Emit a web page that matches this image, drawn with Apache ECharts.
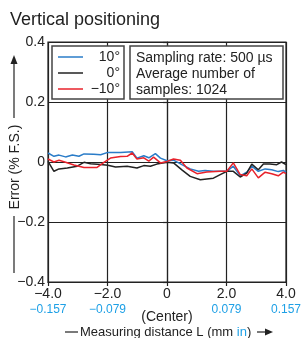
<!DOCTYPE html>
<html><head><meta charset="utf-8">
<script src="https://cdn.jsdelivr.net/npm/echarts@6/dist/echarts.min.js"></script>
<style>html,body{margin:0;padding:0;background:#fff}#c{width:304px;height:338px}</style>
</head><body><div id="c"></div>
<script>
// Tick labels
const xTickMm = ['\u22124.0', '\u22122.0', '0', '2.0', '4.0'];
const xTickIn = ['\u22120.157', '\u22120.079', '', '0.079', '0.157'];
const xTickVals = [-4, -2, 0, 2, 4];
const yTickVals = [0.4, 0.2, 0, -0.2, -0.4];
const yTickLabels = ['0.4', '0.2', '0', '\u22120.2', '\u22120.4'];
const seriesNames = ['10\u00b0', '0\u00b0', '\u221210\u00b0'];

// 10 degrees (blue)
const blueX = [-4.0,-3.8,-3.63,-3.41,-3.18,-2.96,-2.79,-2.46,-2.23,-1.99,-1.56,-1.17,-1.01,-0.78,-0.61,-0.39,-0.22,0,0.22,0.50,0.78,1.06,1.28,1.56,2.01,2.23,2.46,2.68,2.85,3.07,3.30,3.52,3.74,3.91,4.0];
const blueY = [0.030,0.019,0.023,0.017,0.023,0.019,0.027,0.026,0.024,0.032,0.032,0.034,0.013,0.021,0.014,0.028,0.013,0.004,0.006,-0.009,-0.023,-0.031,-0.028,-0.031,-0.031,-0.014,-0.046,-0.034,-0.014,-0.031,-0.023,-0.026,-0.032,-0.028,-0.034];
// 0 degrees (black)
const blackX = [-4.0,-3.8,-3.63,-3.35,-3.02,-2.79,-2.57,-2.23,-1.99,-1.73,-1.34,-1.01,-0.78,-0.56,-0.34,0,0.22,0.50,0.78,1.12,1.56,1.79,2.01,2.23,2.46,2.68,2.85,3.07,3.24,3.46,3.69,3.85,4.0];
const blackY = [0.002,-0.031,-0.023,-0.020,-0.014,-0.001,-0.006,-0.008,-0.011,-0.017,-0.014,-0.020,-0.012,-0.014,-0.007,-0.001,-0.003,-0.026,-0.048,-0.059,-0.054,-0.042,-0.031,-0.031,-0.050,-0.037,-0.007,-0.026,-0.007,-0.007,-0.009,0.000,-0.009];
// -10 degrees (red)
const redX = [-4.0,-3.8,-3.63,-3.41,-3.13,-2.79,-2.35,-2.12,-1.90,-1.56,-1.34,-1.17,-1.01,-0.78,-0.61,-0.45,-0.22,0,0.22,0.45,0.67,1.01,1.34,1.79,2.01,2.23,2.46,2.68,2.85,3.07,3.30,3.52,3.74,3.91,4.0];
const redY = [0.010,0.000,0.006,-0.001,-0.010,-0.018,-0.018,-0.001,0.013,0.018,0.019,0.030,0.010,0.014,0.003,0.016,-0.003,0.002,0.010,0.006,-0.020,-0.039,-0.033,-0.031,-0.031,-0.003,-0.042,-0.046,-0.023,-0.053,-0.034,-0.039,-0.046,-0.034,-0.039];

const colors = ['#2a7cc8', '#222222', '#e8222b'];
const lightBlue = '#1ea0e6';
const FONT = '"Liberation Sans", Arial, sans-serif';
const zip = (xs, ys) => xs.map((x, i) => [x, ys[i]]);

const chart = echarts.init(document.getElementById('c'), null, {renderer: 'canvas'});
const legendRows = [57, 73, 89];
const graphic = [
  {type: 'text', left: 10, top: 11, style: {text: 'Vertical positioning', font: '18px ' + FONT, fill: '#222'}},
  {type: 'rect', shape: {x: 52, y: 46, width: 72, height: 53}, style: {fill: '#fff', stroke: '#444', lineWidth: 1.5}, z: 10},
  {type: 'rect', shape: {x: 130, y: 46, width: 153, height: 53}, style: {fill: '#fff', stroke: '#444', lineWidth: 1.5}, z: 10},
  {type: 'text', x: 136, y: 50, z: 11, style: {text: 'Sampling rate: 500 \u00b5s\nAverage number of\nsamples: 1024', font: '14px ' + FONT, fill: '#222', lineHeight: 16}},
  // y-axis title with arrow
  {type: 'text', x: 15, y: 167, rotation: Math.PI / 2, style: {text: 'Error (% F.S.)', font: '14px ' + FONT, fill: '#222', align: 'center', verticalAlign: 'middle'}},
  {type: 'line', shape: {x1: 14, y1: 62, x2: 14, y2: 118}, style: {stroke: '#222', lineWidth: 1.2}},
  {type: 'polygon', shape: {points: [[14, 55], [10.5, 64], [17.5, 64]]}, style: {fill: '#222'}},
  {type: 'line', shape: {x1: 14, y1: 216, x2: 14, y2: 273}, style: {stroke: '#222', lineWidth: 1.2}},
  // x-axis title
  {type: 'line', shape: {x1: 65, y1: 332, x2: 78, y2: 332}, style: {stroke: '#222', lineWidth: 1.2}},
  {type: 'text', x: 80, y: 332, style: {text: 'Measuring distance L (mm {b|in})', rich: {b: {fill: lightBlue, font: '13px ' + FONT}}, font: '13px ' + FONT, fill: '#222', verticalAlign: 'middle'}},
  {type: 'line', shape: {x1: 257, y1: 332, x2: 266, y2: 332}, style: {stroke: '#222', lineWidth: 1.2}},
  {type: 'polygon', shape: {points: [[273, 332], [265, 328.5], [265, 335.5]]}, style: {fill: '#222'}}
];
seriesNames.forEach((n, i) => {
  graphic.push({type: 'line', z: 11, shape: {x1: 58, y1: legendRows[i], x2: 83, y2: legendRows[i]}, style: {stroke: colors[i], lineWidth: 1.5}});
  graphic.push({type: 'text', z: 11, x: 120, y: legendRows[i], style: {text: n, font: '14px ' + FONT, fill: '#222', align: 'right', verticalAlign: 'middle'}});
});

chart.setOption({
  animation: false,
  textStyle: {fontFamily: FONT},
  grid: {left: 48, right: 17, top: 42, bottom: 56, show: true, borderColor: '#222', borderWidth: 1.2, backgroundColor: 'transparent'},
  xAxis: {
    type: 'value', min: -4, max: 4, interval: 2,
    axisLine: {onZero: false, lineStyle: {color: '#222', width: 1.2}},
    axisTick: {show: true, length: 4, lineStyle: {color: '#222', width: 1.2}},
    splitLine: {show: true, lineStyle: {color: '#222', width: 1.2}},
    axisLabel: {
      margin: 4, color: '#222',
      formatter: v => {
        const i = xTickVals.indexOf(v);
        if (i < 0) return '';
        if (v === 0) return '{a|' + xTickMm[i] + '}\n{c|(Center)}';
        return '{a|' + xTickMm[i] + '}\n{b|' + xTickIn[i] + '}';
      },
      rich: {
        a: {fontSize: 14, lineHeight: 16, color: '#222', fontFamily: FONT},
        b: {fontSize: 12, lineHeight: 15, color: lightBlue, fontFamily: FONT},
        c: {fontSize: 14, lineHeight: 30, color: '#222', fontFamily: FONT}
      }
    }
  },
  yAxis: {
    type: 'value', min: -0.4, max: 0.4, interval: 0.2,
    axisLine: {show: true, lineStyle: {color: '#222', width: 1.2}},
    axisTick: {show: true, length: 4, lineStyle: {color: '#222', width: 1.2}},
    splitLine: {show: true, lineStyle: {color: '#222', width: 1.2}},
    axisLabel: {
      margin: 3, fontSize: 14, color: '#222', fontFamily: FONT,
      formatter: v => {
        const i = yTickVals.findIndex(t => Math.abs(t - v) < 1e-9);
        return i < 0 ? '' : yTickLabels[i];
      }
    }
  },
  series: [
    {name: seriesNames[0], type: 'line', data: zip(blueX, blueY), symbol: 'none', lineStyle: {color: colors[0], width: 1.5}},
    {name: seriesNames[1], type: 'line', data: zip(blackX, blackY), symbol: 'none', lineStyle: {color: colors[1], width: 1.5}},
    {name: seriesNames[2], type: 'line', data: zip(redX, redY), symbol: 'none', lineStyle: {color: colors[2], width: 1.5}}
  ],
  graphic: graphic
});
</script></body></html>
